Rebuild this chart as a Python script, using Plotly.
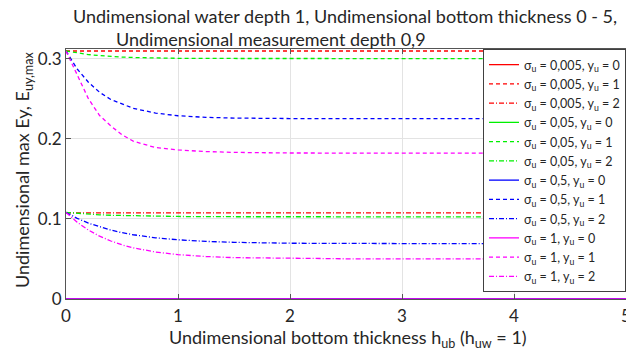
import plotly.graph_objects as go

# ---- data ----
x = [0, 0.1, 0.2, 0.3, 0.4, 0.5, 0.6, 0.8, 1.0, 1.25, 1.5, 2.0, 2.5, 3.0, 3.5, 4.0, 4.5, 5.0]

s0005_y0 = [0]*18
s0005_y1 = [0.3095]*18
s0005_y2 = [0.1075]*18

s005_y0 = [0]*18
s005_y1 = [0.3095, 0.3070, 0.3051, 0.3037, 0.3026, 0.3019, 0.3014, 0.3007, 0.3004, 0.3002,
           0.3001, 0.3000, 0.3000, 0.3000, 0.3000, 0.3000, 0.3000, 0.3000]
s005_y2 = [0.1080, 0.1068, 0.1058, 0.1051, 0.1045, 0.1041, 0.1037, 0.1032, 0.1030, 0.1027,
           0.1026, 0.1025, 0.1025, 0.1025, 0.1025, 0.1025, 0.1025, 0.1025]

s05_y0 = [0]*18
s05_y1 = [0.3095, 0.2870, 0.2705, 0.2580, 0.2490, 0.2430, 0.2380, 0.2320, 0.2287, 0.2267,
          0.2258, 0.2252, 0.2250, 0.2250, 0.2250, 0.2250, 0.2250, 0.2250]
s05_y2 = [0.1080, 0.1007, 0.0947, 0.0899, 0.0860, 0.0828, 0.0802, 0.0764, 0.0739, 0.0719,
          0.0707, 0.0696, 0.0692, 0.0690, 0.0690, 0.0690, 0.0690, 0.0690]

s1_y0 = [0]*18
s1_y1 = [0.3095, 0.2800, 0.2500, 0.2290, 0.2160, 0.2050, 0.1970, 0.1890, 0.1860, 0.1840,
         0.1830, 0.1822, 0.1820, 0.1820, 0.1820, 0.1820, 0.1820, 0.1820]
s1_y2 = [0.1080, 0.0957, 0.0860, 0.0784, 0.0724, 0.0676, 0.0639, 0.0586, 0.0554, 0.0530,
         0.0516, 0.0505, 0.0502, 0.0500, 0.0500, 0.0500, 0.0500, 0.0500]

sigmas = ["0,005", "0,05", "0,5", "1"]
ys = ["0", "1", "2"]
series = [[s0005_y0, s0005_y1, s0005_y2],
          [s005_y0, s005_y1, s005_y2],
          [s05_y0, s05_y1, s05_y2],
          [s1_y0, s1_y1, s1_y2]]
colors = ["#ff0000", "#00f000", "#0000ff", "#ff00ff"]
dashes = ["solid", "4px,3px", "5px,2px,1px,2px"]

x_ticks = [0, 1, 2, 3, 4, 5]
y_ticks = [0, 0.1, 0.2, 0.3]

FONT = "Lato"
TXT = "#262626"

fig = go.Figure()
for i, sg in enumerate(sigmas):
    for j, yv in enumerate(ys):
        fig.add_trace(go.Scatter(
            x=x, y=series[i][j], mode="lines",
            line=dict(color=colors[i], width=1.3, dash=dashes[j]),
            name=f"σ<sub>u</sub> = {sg}, y<sub>u</sub> = {yv}",
        ))

L, T, B = 66, 49, 52
W, H = 626, 351
pw = W - L
ph = H - T - B

def px(p):
    return (p - L) / pw

def py(p):
    return (H - B - p) / ph

fig.update_layout(
    width=W, height=H,
    margin=dict(l=L, r=0, t=T, b=B, pad=0, autoexpand=False),
    paper_bgcolor="white", plot_bgcolor="white",
    font=dict(family=FONT, size=17, color=TXT),
    showlegend=True,
    legend=dict(
        x=1, xanchor="right", y=1, yanchor="top",
        bgcolor="white", bordercolor="#404040", borderwidth=1,
        font=dict(family=FONT, size=12.5, color=TXT),
        tracegroupgap=0, itemwidth=30,
    ),
    xaxis=dict(
        range=[0, 5], tickvals=x_ticks, ticktext=[str(v) for v in x_ticks],
        showgrid=True, gridcolor="#e3e3e3", gridwidth=1,
        zeroline=False, showline=True, linecolor="#555555", linewidth=1,
        mirror="ticks", ticks="inside", ticklen=5, tickcolor="#555555",
        tickfont=dict(size=17, family=FONT), ticklabelstandoff=2,
        ticklabeloverflow="allow",
    ),
    yaxis=dict(
        range=[0, 0.312], tickvals=y_ticks, ticktext=["0", "0.1", "0.2", "0.3"],
        showgrid=True, gridcolor="#e3e3e3", gridwidth=1,
        zeroline=False, showline=True, linecolor="#555555", linewidth=1,
        mirror="ticks", ticks="inside", ticklen=5, tickcolor="#555555",
        tickfont=dict(size=17, family=FONT), ticklabelstandoff=0,
    ),
    annotations=[
        dict(text="Undimensional water depth 1, Undimensional bottom thickness 0 - 5,",
             xref="paper", yref="paper", x=px(345), y=py(16), showarrow=False,
             xanchor="center", yanchor="middle", font=dict(size=18, family=FONT, color=TXT)),
        dict(text="Undimensional measurement depth 0,9",
             xref="paper", yref="paper", x=px(271), y=py(39), showarrow=False,
             xanchor="center", yanchor="middle", font=dict(size=18, family=FONT, color=TXT)),
        dict(text="Undimensional bottom thickness h<sub>ub</sub> (h<sub>uw</sub> = 1)",
             xref="paper", yref="paper", x=px(348), y=py(338), showarrow=False,
             xanchor="center", yanchor="middle", font=dict(size=18, family=FONT, color=TXT)),
        dict(text="Undimensional max Ey, E<sub>uy,max</sub>",
             xref="paper", yref="paper", x=px(23), y=py(170), showarrow=False, textangle=-90,
             xanchor="center", yanchor="middle", font=dict(size=18, family=FONT, color=TXT)),
    ],
)

fig.write_html("out.html", config={"displayModeBar": False},
               post_script="document.body.style.margin='0';document.body.style.overflow='hidden';")
